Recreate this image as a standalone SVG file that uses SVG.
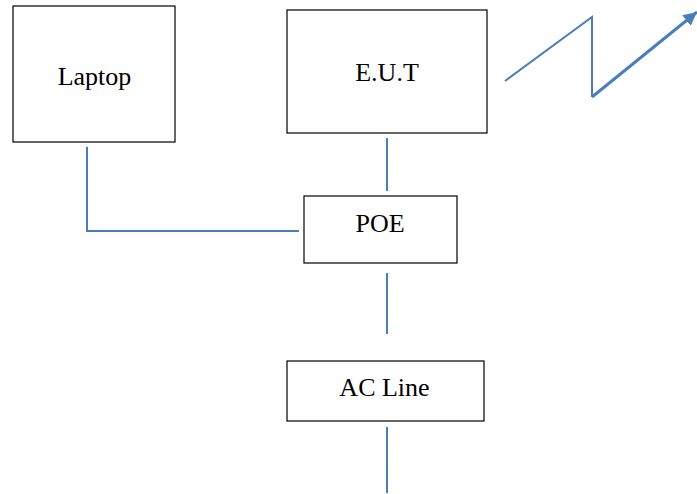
<svg xmlns="http://www.w3.org/2000/svg" width="697" height="494" viewBox="0 0 697 494">
<style>
.box{fill:#fff;stroke:#000;stroke-width:1.2}
.lbl{font-family:"Liberation Serif",serif;font-size:26px;fill:#000;text-anchor:middle}
.con{fill:none;stroke:#4a7ebb;stroke-width:2}
.thick{stroke-width:3}
</style>
<defs>
<marker id="ah" viewBox="0 0 10 10" refX="10" refY="5" markerWidth="4.5" markerHeight="4.5" orient="auto" markerUnits="strokeWidth">
<path d="M0,0 L10,5 L0,10 z" fill="#4a7ebb"/>
</marker>
</defs>
<rect width="697" height="494" fill="#fff"/>
<g id="connectors">
<polyline class="con" points="87,147 87,231 299,231"/>
<line class="con" x1="387" y1="138" x2="387" y2="191"/>
<line class="con" x1="387" y1="273" x2="387" y2="334"/>
<line class="con" x1="387" y1="427" x2="387" y2="493"/>
<polyline class="con" points="505,81 592,17 592,97"/>
<line class="con thick" x1="592" y1="97" x2="697" y2="12" marker-end="url(#ah)"/>
</g>
<g id="laptop">
<rect class="box" x="13" y="6" width="162" height="136"/>
<text class="lbl" x="94.5" y="85">Laptop</text>
</g>
<g id="eut">
<rect class="box" x="287" y="10" width="200" height="123"/>
<text class="lbl" x="387" y="81">E.U.T</text>
</g>
<g id="poe">
<rect class="box" x="304" y="196" width="153" height="67"/>
<text class="lbl" x="380" y="232">POE</text>
</g>
<g id="acline">
<rect class="box" x="287" y="361" width="197" height="60"/>
<text class="lbl" x="384.5" y="396">AC Line</text>
</g>
</svg>
